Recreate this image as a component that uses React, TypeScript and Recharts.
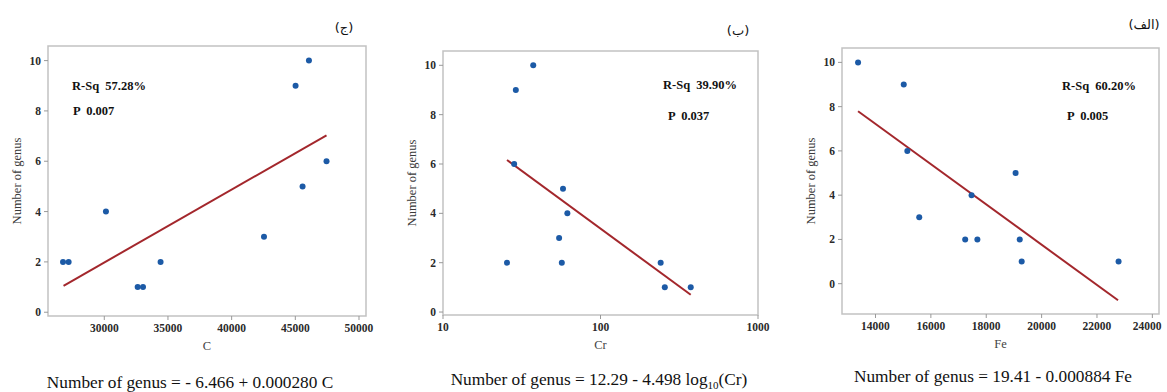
import React from 'react';
import {
  ScatterChart, Scatter, XAxis, YAxis, ReferenceArea,
} from 'recharts';

// (ج) carbon
const C_VALUES = [26760, 27200, 30130, 32620, 33040, 34420, 42540, 45020, 46070, 45570, 47450];
const C_GENUS = [2, 2, 4, 1, 1, 2, 3, 9, 10, 5, 6];
const C_FIT_X = [26800, 47450];
const C_FIT_Y = [1.05, 7.03];
const C_TICKS = [30000, 35000, 40000, 45000, 50000];

// (ب) chromium
const CR_VALUES = [25.5, 28.3, 29.0, 37.4, 57.8, 61.6, 54.6, 56.8, 241, 256, 374];
const CR_GENUS = [2, 6, 9, 10, 5, 4, 3, 2, 2, 1, 1];
const CR_FIT_X = [25.5, 374];
const CR_FIT_Y = [6.16, 0.7];
const CR_TICKS = [10, 100, 1000];

// (الف) iron
const FE_VALUES = [13370, 15020, 15150, 15580, 17240, 17470, 17680, 19060, 19210, 19280, 22780];
const FE_GENUS = [10, 9, 6, 3, 2, 4, 2, 5, 2, 1, 1];
const FE_FIT_X = [13370, 22760];
const FE_FIT_Y = [7.79, -0.75];
const FE_TICKS = [14000, 16000, 18000, 20000, 22000, 24000];

const Y_TICKS = [0, 2, 4, 6, 8, 10];

const zip = (xs: number[], ys: number[]) => xs.map((x, i) => ({ x, y: ys[i] }));

const SERIF = '"Liberation Serif", "Times New Roman", serif';
const DOT = '#1c5aa6';
const FIT = '#a3272c';
const FRAME = '#c2c2c2';

// custom ticks so the bold serif face is applied for sure
const XTick = (p: any) => (
  <text x={p.x} y={p.y + 9} textAnchor="middle" fontFamily={SERIF} fontWeight={700} fontSize={11.5} fill="#2a2a2a">
    {p.payload.value}
  </text>
);
const YTick = (p: any) => (
  <text x={p.x} y={p.y + 4} textAnchor="end" fontFamily={SERIF} fontWeight={700} fontSize={11.5} fill="#2a2a2a">
    {p.payload.value}
  </text>
);

interface PanelProps {
  left: number;
  width: number;
  margin: { top: number; right: number; bottom: number; left: number };
  xDomain: [number, number];
  yDomain: [number, number];
  xTicks: number[];
  log?: boolean;
  xLabel: string;
  points: { x: number; y: number }[];
  fit: { x: number; y: number }[];
}

const Dot = (p: any) => <circle cx={p.cx} cy={p.cy} r={3} fill={DOT} />;

const Panel = ({ left, width, margin, xDomain, yDomain, xTicks, log, xLabel, points, fit }: PanelProps) => (
  <div style={{ position: 'absolute', left, top: 0 }}>
    <ScatterChart width={width} height={392} margin={margin}>
      <XAxis
        type="number"
        dataKey="x"
        scale={log ? 'log' : 'auto'}
        domain={xDomain}
        ticks={xTicks}
        allowDataOverflow
        axisLine={false}
        tickLine={{ stroke: '#999' }}
        tickSize={4}
        tickMargin={3}
        tick={<XTick />}
        height={34}
        label={{
          value: xLabel, position: 'insideBottom', offset: 0,
          style: { fontFamily: SERIF, fontSize: 12.5, fill: '#444' },
        }}
      />
      <YAxis
        type="number"
        dataKey="y"
        domain={yDomain}
        ticks={Y_TICKS}
        allowDataOverflow
        axisLine={false}
        tickLine={{ stroke: '#999' }}
        tickSize={4}
        tickMargin={3}
        tick={<YTick />}
        width={36}
        label={{
          value: 'Number of genus', angle: -90, position: 'insideLeft', offset: 5,
          style: { textAnchor: 'middle', fontFamily: SERIF, fontSize: 12.5, fill: '#3a3a3a' },
        }}
      />
      <ReferenceArea
        x1={xDomain[0]} x2={xDomain[1]} y1={yDomain[0]} y2={yDomain[1]}
        fill="none" stroke={FRAME} strokeWidth={1.5} ifOverflow="visible"
      />
      <Scatter
        data={fit}
        line={{ stroke: FIT, strokeWidth: 2 }}
        shape={() => null}
        isAnimationActive={false}
      />
      <Scatter data={points} shape={Dot} isAnimationActive={false} />
    </ScatterChart>
  </div>
);

const Txt = ({ x, y, children, size = 12.5, bold = true, center = false, font = SERIF }: any) => (
  <div
    style={{
      position: 'absolute', left: x, top: y - size / 2, lineHeight: `${size}px`,
      fontSize: size, fontFamily: font, fontWeight: bold ? 700 : 400, color: '#111',
      whiteSpace: 'pre', transform: center ? 'translateX(-50%)' : undefined,
    }}
  >
    {children}
  </div>
);

export default function App() {
  return (
    <div style={{ position: 'absolute', left: 0, top: 0, width: 1167, height: 392, background: '#fff', overflow: 'hidden' }}>
      <Panel
        left={0} width={380}
        margin={{ top: 46, right: 14, bottom: 42, left: 12 }}
        xDomain={[25580, 50550]} yDomain={[-0.15, 10.58]} xTicks={C_TICKS}
        xLabel="C" points={zip(C_VALUES, C_GENUS)} fit={zip(C_FIT_X, C_FIT_Y)}
      />
      <Panel
        left={390} width={390}
        margin={{ top: 51, right: 22, bottom: 43, left: 17 }}
        xDomain={[10, 1000]} yDomain={[-0.12, 10.58]} xTicks={CR_TICKS} log
        xLabel="Cr" points={zip(CR_VALUES, CR_GENUS)} fit={zip(CR_FIT_X, CR_FIT_Y)}
      />
      <Panel
        left={780} width={387}
        margin={{ top: 48, right: 8, bottom: 44, left: 26 }}
        xDomain={[12790, 24240]} yDomain={[-1.37, 10.65]} xTicks={FE_TICKS}
        xLabel="Fe" points={zip(FE_VALUES, FE_GENUS)} fit={zip(FE_FIT_X, FE_FIT_Y)}
      />

      <Txt x={72} y={86}>{'R-Sq  57.28%'}</Txt>
      <Txt x={73} y={111}>{'P  0.007'}</Txt>
      <Txt x={663} y={85}>{'R-Sq  39.90%'}</Txt>
      <Txt x={668} y={116}>{'P  0.037'}</Txt>
      <Txt x={1062} y={86}>{'R-Sq  60.20%'}</Txt>
      <Txt x={1067} y={116}>{'P  0.005'}</Txt>

      <Txt x={344} y={27} size={13} bold={false} center font='"DejaVu Sans", sans-serif'>{'(ج)'}</Txt>
      <Txt x={738} y={30} size={13} bold={false} center font='"DejaVu Sans", sans-serif'>{'(ب)'}</Txt>
      <Txt x={1144} y={24} size={13} bold={false} center font='"DejaVu Sans", sans-serif'>{'(الف)'}</Txt>

      <Txt x={190} y={383} size={17.3} bold={false} center>{'Number of genus = - 6.466 + 0.000280 C'}</Txt>
      <Txt x={599} y={380} size={17.3} bold={false} center>
        {'Number of genus = 12.29 - 4.498 log'}<sub style={{ fontSize: 11, lineHeight: 0 }}>10</sub>{'(Cr)'}
      </Txt>
      <Txt x={993} y={377} size={17.3} bold={false} center>{'Number of genus = 19.41 - 0.000884 Fe'}</Txt>
    </div>
  );
}
